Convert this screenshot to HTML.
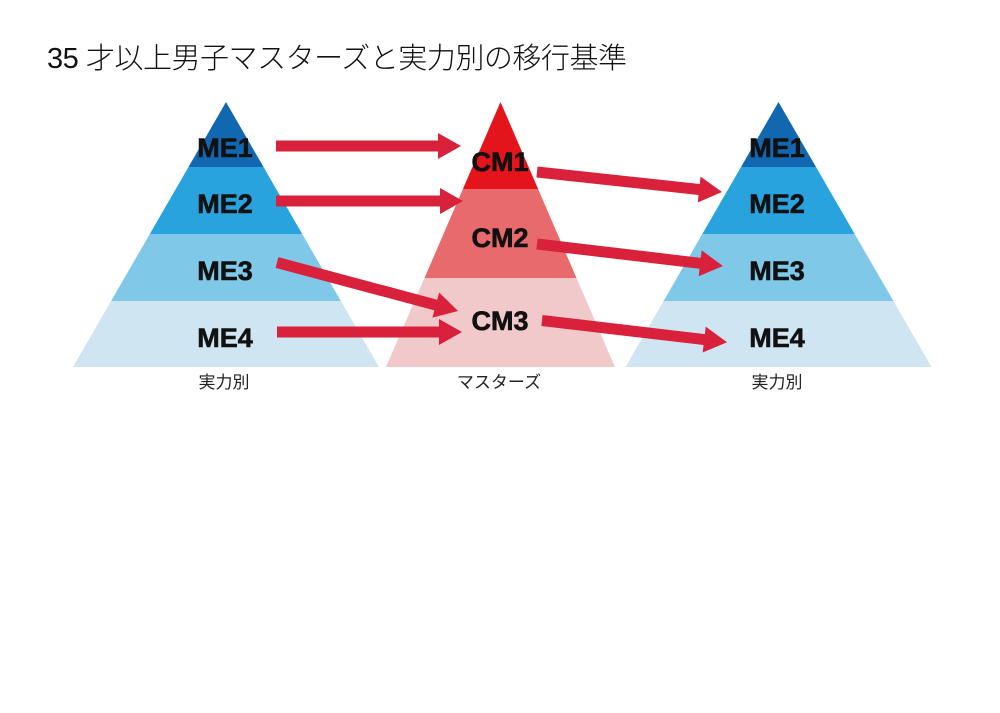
<!DOCTYPE html>
<html>
<head>
<meta charset="utf-8">
<style>
  html, body { margin: 0; padding: 0; background: #fff; }
  body { width: 1000px; height: 713px; overflow: hidden; }
  svg { display: block; }
  .lbl { font-family: "Liberation Sans", "DejaVu Sans", sans-serif; font-weight: bold; font-size: 27px; fill: #111; stroke: #111; stroke-width: 0.6px; }
  .cap { font-family: "Liberation Sans", "Noto Sans CJK JP", sans-serif; font-size: 17px; fill: #222; }
  .title { font-family: "Liberation Sans", "Noto Sans CJK JP", sans-serif; font-size: 29px; font-weight: 300; fill: #111; }
</style>
</head>
<body>
<svg width="1000" height="713" viewBox="0 0 1000 713" xmlns="http://www.w3.org/2000/svg">
  <rect width="1000" height="713" fill="#fff"/>

  <text class="title" x="47" y="68" textLength="580" lengthAdjust="spacing">35 才以上男子マスターズと実力別の移行基準</text>

  <!-- Left pyramid -->
  <polygon points="226,102 263.5,167 188.5,167" fill="#1268b0"/>
  <polygon points="188.5,167 263.5,167 302.2,234 149.8,234" fill="#29a3dd"/>
  <polygon points="149.8,234 302.2,234 340.9,301 111.1,301" fill="#80c8e8"/>
  <polygon points="111.1,301 340.9,301 379,367 73,367" fill="#cfe5f1"/>

  <!-- Middle pyramid -->
  <polygon points="500.5,102 538.1,189 462.9,189" fill="#e5141b"/>
  <polygon points="462.9,189 538.1,189 576.5,278 424.5,278" fill="#e86a6c"/>
  <polygon points="424.5,278 576.5,278 615,367 386,367" fill="#f2c9ca"/>

  <!-- Right pyramid -->
  <polygon points="778.5,102 816,167 741,167" fill="#1268b0"/>
  <polygon points="741,167 816,167 854.7,234 702.3,234" fill="#29a3dd"/>
  <polygon points="702.3,234 854.7,234 893.4,301 663.6,301" fill="#80c8e8"/>
  <polygon points="663.6,301 893.4,301 931.5,367 625.5,367" fill="#cfe5f1"/>

  <!-- Labels -->
  <text class="lbl" x="225" y="157" text-anchor="middle">ME1</text>
  <text class="lbl" x="225" y="213" text-anchor="middle">ME2</text>
  <text class="lbl" x="225" y="280" text-anchor="middle">ME3</text>
  <text class="lbl" x="225" y="347" text-anchor="middle">ME4</text>

  <text class="lbl" x="500" y="171" text-anchor="middle">CM1</text>
  <text class="lbl" x="500" y="247" text-anchor="middle">CM2</text>
  <text class="lbl" x="500" y="330" text-anchor="middle">CM3</text>

  <text class="lbl" x="777" y="157" text-anchor="middle">ME1</text>
  <text class="lbl" x="777" y="213" text-anchor="middle">ME2</text>
  <text class="lbl" x="777" y="280" text-anchor="middle">ME3</text>
  <text class="lbl" x="777" y="347" text-anchor="middle">ME4</text>

  <!-- Captions -->
  <text class="cap" x="224" y="388" text-anchor="middle">実力別</text>
  <text class="cap" x="499" y="388" text-anchor="middle">マスターズ</text>
  <text class="cap" x="777" y="388" text-anchor="middle">実力別</text>

  <!-- Arrows -->
  <g fill="#d9213b">
    <polygon points="276,140.5 438,140.5 438,133 461,146 438,159 438,151.5 276,151.5"/>
    <polygon points="276,195.5 440,195.5 440,188 463,201 440,214 440,206.5 276,206.5"/>
    <polygon points="277,326.5 439,326.5 439,319 462,332 439,345 439,337.5 277,337.5"/>
    <g transform="translate(277,262.5) rotate(15)">
      <polygon points="0,-5.5 164.4,-5.5 164.4,-13 187.4,0 164.4,13 164.4,5.5 0,5.5"/>
    </g>
    <g transform="translate(537,172) rotate(6.17)">
      <polygon points="0,-5.5 163.1,-5.5 163.1,-13 186.1,0 163.1,13 163.1,5.5 0,5.5"/>
    </g>
    <g transform="translate(537,244) rotate(6.75)">
      <polygon points="0,-5.5 164.3,-5.5 164.3,-13 187.3,0 164.3,13 164.3,5.5 0,5.5"/>
    </g>
    <g transform="translate(542,320.5) rotate(6.7)">
      <polygon points="0,-5.5 163.3,-5.5 163.3,-13 186.3,0 163.3,13 163.3,5.5 0,5.5"/>
    </g>
  </g>
</svg>
</body>
</html>
